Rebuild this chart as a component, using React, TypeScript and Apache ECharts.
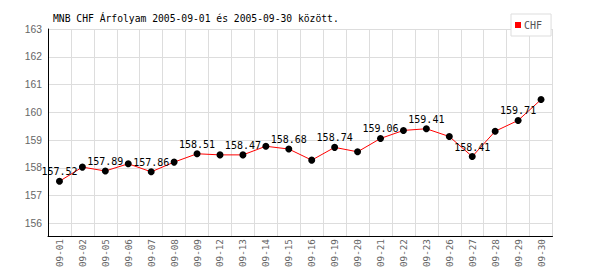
import React, { useEffect, useRef } from "react";
import * as echarts from "echarts";

const TITLE = "MNB CHF Árfolyam 2005-09-01 és 2005-09-30 között.";
const SERIES_NAME = "CHF";
const categories = [
  "09-01", "09-02", "09-05", "09-06", "09-07", "09-08", "09-09", "09-12",
  "09-13", "09-14", "09-15", "09-16", "09-19", "09-20", "09-21", "09-22",
  "09-23", "09-26", "09-27", "09-28", "09-29", "09-30",
];
const values = [
  157.52, 158.03, 157.89, 158.15, 157.86, 158.21, 158.51, 158.47,
  158.47, 158.78, 158.68, 158.28, 158.74, 158.58, 159.06, 159.35,
  159.41, 159.13, 158.41, 159.32, 159.71, 160.46,
];
const Y_MIN = 155.55;
const Y_MAX = 163;

export default function App() {
  const ref = useRef<HTMLDivElement>(null);
  useEffect(() => {
    if (!ref.current) return;
    const chart = echarts.init(ref.current, undefined, { renderer: "svg" });
    chart.setOption({
      animation: false,
      backgroundColor: "#ffffff",
      title: {
        text: TITLE,
        left: 53,
        top: 13,
        padding: 0,
        textStyle: {
          fontFamily: "DejaVu Sans Mono",
          fontSize: 9.7,
          fontWeight: "normal",
          color: "#000000",
        },
      },
      legend: {
        data: [SERIES_NAME],
        left: 511,
        top: 14,
        padding: [6, 9, 6, 4],
        backgroundColor: "#ffffff",
        borderColor: "#dddddd",
        borderWidth: 1,
        borderRadius: 0,
        icon: "rect",
        itemWidth: 6,
        itemHeight: 6,
        itemStyle: { color: "#ff0000" },
        textStyle: {
          fontFamily: "DejaVu Sans Mono",
          fontSize: 10,
          color: "#555555",
          padding: [0, 0, 0, -2],
        },
      },
      grid: { left: 48, right: 47.5, top: 29, bottom: 31.7 },
      xAxis: {
        type: "category",
        data: categories,
        boundaryGap: true,
        axisLine: { lineStyle: { color: "#000000", width: 1 } },
        axisTick: { show: false },
        splitLine: { show: true, lineStyle: { color: "#dddddd", width: 1 } },
        axisLabel: {
          interval: 0,
          rotate: 90,
          margin: 3,
          fontFamily: "DejaVu Sans Mono",
          fontSize: 9.3,
          color: "#666666",
        },
      },
      yAxis: {
        type: "value",
        min: Y_MIN,
        max: Y_MAX,
        splitNumber: 7,
        axisLine: { show: true, lineStyle: { color: "#000000", width: 1 } },
        axisTick: { show: false },
        splitLine: { show: true, lineStyle: { color: "#dddddd", width: 1 } },
        axisLabel: {
          showMinLabel: false,
          margin: 6,
          fontFamily: "Liberation Sans",
          fontSize: 10.3,
          color: "#666666",
          formatter: (v: number) => (Number.isInteger(v) ? String(v) : ""),
        },
      },
      series: [
        {
          name: SERIES_NAME,
          type: "line",
          data: values,
          color: "#ff0000",
          lineStyle: { color: "#ff0000", width: 1 },
          symbol: "circle",
          symbolSize: 7,
          itemStyle: { color: "#000000" },
          label: {
            show: true,
            position: "top",
            distance: 1,
            fontFamily: "DejaVu Sans Mono",
            fontSize: 10,
            color: "#000000",
            formatter: (p: any) =>
              p.dataIndex % 2 === 0 ? Number(p.value).toFixed(2) : "",
          },
        },
      ],
    });
    return () => chart.dispose();
  }, []);
  return (
    <div
      ref={ref}
      style={{ position: "fixed", left: 0, top: 0, width: 600, height: 270 }}
    />
  );
}
